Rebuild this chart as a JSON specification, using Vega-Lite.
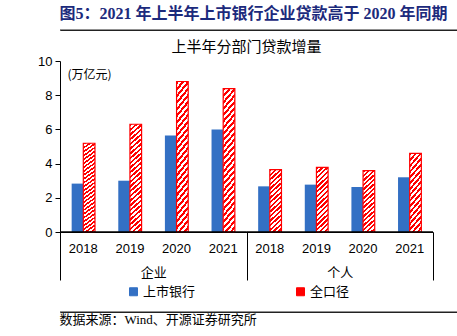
{
  "$schema": "https://vega.github.io/schema/vega-lite/v6.json",
  "padding": {"left": 32, "top": 4, "right": 10, "bottom": 2},
  "config": {"view": {"stroke": null}, "font": "Liberation Sans"},
  "spacing": 9,
  "resolve": {"legend": {"color": "independent"}, "scale": {"y": "independent", "color": "independent", "x": "independent"}},
  "vconcat": [
    {
      "width": 411,
      "height": 26,
      "title": {"text": "图5：2021 年上半年上市银行企业贷款高于 2020 年同期", "font": "'Liberation Serif', 'Noto Sans CJK SC'", "fontSize": 16, "fontWeight": "bold", "color": "#1c2a7c", "anchor": "start", "offset": -18},
      "data": {"values": [{"start": 0, "end": 1}]},
      "mark": {"type": "rule", "stroke": "#222222", "strokeWidth": 1},
      "encoding": {
        "x": {"field": "start", "type": "quantitative", "scale": {"domain": [0, 1]}, "axis": {"orient": "bottom", "title": null, "labels": false, "ticks": false, "grid": false, "domainColor": "#222222", "domainWidth": 1, "minExtent": 0, "maxExtent": 0}},
        "x2": {"field": "end"},
        "y": {"datum": 0, "type": "quantitative", "scale": {"domain": [0, 1]}, "axis": null}
      }
    },
    {
      "width": 373,
      "height": 171,
      "view": {"stroke": null},
      "title": {"text": "上半年分部门贷款增量", "font": "Noto Sans CJK SC", "fontSize": 15, "fontWeight": "normal", "color": "#000000", "frame": "group", "anchor": "middle", "offset": 0},
      "data": {
        "values": [
          {"dept": "企业", "year": "2018", "series": "上市银行", "value": 2.83},
          {"dept": "企业", "year": "2019", "series": "上市银行", "value": 3.0},
          {"dept": "企业", "year": "2020", "series": "上市银行", "value": 5.65},
          {"dept": "企业", "year": "2021", "series": "上市银行", "value": 5.99},
          {"dept": "企业", "year": "2018", "series": "全口径", "value": 5.19},
          {"dept": "企业", "year": "2019", "series": "全口径", "value": 6.3},
          {"dept": "企业", "year": "2020", "series": "全口径", "value": 8.8},
          {"dept": "企业", "year": "2021", "series": "全口径", "value": 8.39},
          {"dept": "个人", "year": "2018", "series": "上市银行", "value": 2.67},
          {"dept": "个人", "year": "2019", "series": "上市银行", "value": 2.77},
          {"dept": "个人", "year": "2020", "series": "上市银行", "value": 2.63},
          {"dept": "个人", "year": "2021", "series": "上市银行", "value": 3.2},
          {"dept": "个人", "year": "2018", "series": "全口径", "value": 3.65},
          {"dept": "个人", "year": "2019", "series": "全口径", "value": 3.78},
          {"dept": "个人", "year": "2020", "series": "全口径", "value": 3.59},
          {"dept": "个人", "year": "2021", "series": "全口径", "value": 4.6}
        ]
      },
      "transform": [{"calculate": "datum.dept + '|' + datum.year", "as": "key"}],
      "layer": [
        {
          "layer": [
            {
              "transform": [{"filter": "datum.series === '上市银行'"}],
              "mark": {"type": "bar"},
              "encoding": {
                "x": {
                  "field": "key", "type": "nominal",
                  "scale": {"domain": ["企业|2018", "企业|2019", "企业|2020", "企业|2021", "个人|2018", "个人|2019", "个人|2020", "个人|2021"], "paddingInner": 0, "paddingOuter": 0},
                  "axis": {"title": null, "orient": "bottom", "labelExpr": "slice(datum.value, -4)", "labelAngle": 0, "ticks": false, "labelPadding": 10, "labelFontSize": 13, "labelColor": "#000000", "domainColor": "#000000", "domainWidth": 1}
                },
                "xOffset": {"field": "series", "scale": {"domain": ["上市银行", "全口径"], "paddingInner": 0, "paddingOuter": 1}},
                "y": {
                  "field": "value", "type": "quantitative",
                  "scale": {"domain": [0, 10]},
                  "axis": {"values": [0, 2, 4, 6, 8, 10], "tickCount": 6, "labelOverlap": false, "title": "(万亿元)", "titleAngle": 0, "titleX": 7, "titleY": 13, "titleAlign": "left", "titleBaseline": "middle", "titleFont": "Noto Sans CJK SC", "titleFontSize": 12, "titleFontWeight": "normal", "titleColor": "#000000", "grid": false, "tickSize": 5, "tickColor": "#000000", "domainColor": "#000000", "labelFontSize": 13, "labelColor": "#000000", "labelPadding": 3, "minExtent": 28, "maxExtent": 28}
                },
                "color": {
                  "field": "series", "type": "nominal",
                  "scale": {"domain": ["上市银行", "全口径"], "range": ["#3370c4", "#ff0000"]},
                  "legend": {
                    "title": null, "orient": "none", "legendX": 64, "legendY": 221, "padding": 3, "direction": "horizontal",
                    "symbolType": "square", "symbolSize": 64, "labelFont": "Noto Sans CJK SC", "labelFontSize": 13, "labelColor": "#000000", "labelOffset": 3, "columnPadding": 98,
                    "encode": {
                      "symbols": {
                        "update": {
                          "fill": [
                            {"test": "datum.value === '全口径'", "value": {"gradient": "linear", "x1": 0, "y1": 0, "x2": 1, "y2": 1, "stops": [
                              {"offset": 0, "color": "#ff0000"}, {"offset": 0.28, "color": "#ff0000"}, {"offset": 0.28, "color": "#ffffff"}, {"offset": 0.42, "color": "#ffffff"},
                              {"offset": 0.42, "color": "#ff0000"}, {"offset": 0.58, "color": "#ff0000"}, {"offset": 0.58, "color": "#ffffff"}, {"offset": 0.72, "color": "#ffffff"},
                              {"offset": 0.72, "color": "#ff0000"}, {"offset": 1, "color": "#ff0000"}]}},
                            {"value": "#3370c4"}
                          ],
                          "stroke": [
                            {"test": "datum.value === '全口径'", "value": "#ff0000"},
                            {"value": "#3370c4"}
                          ],
                          "strokeWidth": {"value": 1}
                        }
                      }
                    }
                  }
                }
              }
            },
            {
              "transform": [{"filter": "datum.series === '全口径' && datum.dept === '企业'"}],
              "mark": {
                "type": "bar", "stroke": "#ff0000", "strokeWidth": 1.2,
                "fill": {"gradient": "linear", "x1": 0, "y1": 0, "x2": 0.1037, "y2": 1.0856, "stops": [
                  {"offset": 0, "color": "#f00"}, {"offset": 0.02, "color": "#f00"}, {"offset": 0.02, "color": "#fff"}, {"offset": 0.04, "color": "#fff"},
                  {"offset": 0.04, "color": "#f00"}, {"offset": 0.06, "color": "#f00"}, {"offset": 0.06, "color": "#fff"}, {"offset": 0.08, "color": "#fff"},
                  {"offset": 0.08, "color": "#f00"}, {"offset": 0.1, "color": "#f00"}, {"offset": 0.1, "color": "#fff"}, {"offset": 0.12, "color": "#fff"},
                  {"offset": 0.12, "color": "#f00"}, {"offset": 0.14, "color": "#f00"}, {"offset": 0.14, "color": "#fff"}, {"offset": 0.16, "color": "#fff"},
                  {"offset": 0.16, "color": "#f00"}, {"offset": 0.18, "color": "#f00"}, {"offset": 0.18, "color": "#fff"}, {"offset": 0.2, "color": "#fff"},
                  {"offset": 0.2, "color": "#f00"}, {"offset": 0.22, "color": "#f00"}, {"offset": 0.22, "color": "#fff"}, {"offset": 0.24, "color": "#fff"},
                  {"offset": 0.24, "color": "#f00"}, {"offset": 0.26, "color": "#f00"}, {"offset": 0.26, "color": "#fff"}, {"offset": 0.28, "color": "#fff"},
                  {"offset": 0.28, "color": "#f00"}, {"offset": 0.3, "color": "#f00"}, {"offset": 0.3, "color": "#fff"}, {"offset": 0.32, "color": "#fff"},
                  {"offset": 0.32, "color": "#f00"}, {"offset": 0.34, "color": "#f00"}, {"offset": 0.34, "color": "#fff"}, {"offset": 0.36, "color": "#fff"},
                  {"offset": 0.36, "color": "#f00"}, {"offset": 0.38, "color": "#f00"}, {"offset": 0.38, "color": "#fff"}, {"offset": 0.4, "color": "#fff"},
                  {"offset": 0.4, "color": "#f00"}, {"offset": 0.42, "color": "#f00"}, {"offset": 0.42, "color": "#fff"}, {"offset": 0.44, "color": "#fff"},
                  {"offset": 0.44, "color": "#f00"}, {"offset": 0.46, "color": "#f00"}, {"offset": 0.46, "color": "#fff"}, {"offset": 0.48, "color": "#fff"},
                  {"offset": 0.48, "color": "#f00"}, {"offset": 0.5, "color": "#f00"}, {"offset": 0.5, "color": "#fff"}, {"offset": 0.52, "color": "#fff"},
                  {"offset": 0.52, "color": "#f00"}, {"offset": 0.54, "color": "#f00"}, {"offset": 0.54, "color": "#fff"}, {"offset": 0.56, "color": "#fff"},
                  {"offset": 0.56, "color": "#f00"}, {"offset": 0.58, "color": "#f00"}, {"offset": 0.58, "color": "#fff"}, {"offset": 0.6, "color": "#fff"},
                  {"offset": 0.6, "color": "#f00"}, {"offset": 0.62, "color": "#f00"}, {"offset": 0.62, "color": "#fff"}, {"offset": 0.64, "color": "#fff"},
                  {"offset": 0.64, "color": "#f00"}, {"offset": 0.66, "color": "#f00"}, {"offset": 0.66, "color": "#fff"}, {"offset": 0.68, "color": "#fff"},
                  {"offset": 0.68, "color": "#f00"}, {"offset": 0.7, "color": "#f00"}, {"offset": 0.7, "color": "#fff"}, {"offset": 0.72, "color": "#fff"},
                  {"offset": 0.72, "color": "#f00"}, {"offset": 0.74, "color": "#f00"}, {"offset": 0.74, "color": "#fff"}, {"offset": 0.76, "color": "#fff"},
                  {"offset": 0.76, "color": "#f00"}, {"offset": 0.78, "color": "#f00"}, {"offset": 0.78, "color": "#fff"}, {"offset": 0.8, "color": "#fff"},
                  {"offset": 0.8, "color": "#f00"}, {"offset": 0.82, "color": "#f00"}, {"offset": 0.82, "color": "#fff"}, {"offset": 0.84, "color": "#fff"},
                  {"offset": 0.84, "color": "#f00"}, {"offset": 0.86, "color": "#f00"}, {"offset": 0.86, "color": "#fff"}, {"offset": 0.88, "color": "#fff"},
                  {"offset": 0.88, "color": "#f00"}, {"offset": 0.9, "color": "#f00"}, {"offset": 0.9, "color": "#fff"}, {"offset": 0.92, "color": "#fff"},
                  {"offset": 0.92, "color": "#f00"}, {"offset": 0.94, "color": "#f00"}, {"offset": 0.94, "color": "#fff"}, {"offset": 0.96, "color": "#fff"},
                  {"offset": 0.96, "color": "#f00"}, {"offset": 0.98, "color": "#f00"}, {"offset": 0.98, "color": "#fff"}, {"offset": 1, "color": "#fff"}
                ]}
              },
              "encoding": {
                "x": {"field": "key", "type": "nominal", "scale": {"domain": ["企业|2018", "企业|2019", "企业|2020", "企业|2021", "个人|2018", "个人|2019", "个人|2020", "个人|2021"], "paddingInner": 0, "paddingOuter": 0}},
                "xOffset": {"field": "series", "scale": {"domain": ["上市银行", "全口径"], "paddingInner": 0, "paddingOuter": 1}},
                "y": {"field": "value", "type": "quantitative", "scale": {"domain": [0, 10]}}
              }
            },
            {
              "transform": [{"filter": "datum.series === '全口径' && datum.dept === '个人'"}],
              "mark": {
                "type": "bar", "stroke": "#ff0000", "strokeWidth": 1.2,
                "fill": {"gradient": "linear", "x1": 0, "y1": 0, "x2": 0.1983, "y2": 1.1395, "stops": [
                  {"offset": 0, "color": "#f00"}, {"offset": 0.03125, "color": "#f00"}, {"offset": 0.03125, "color": "#fff"}, {"offset": 0.0625, "color": "#fff"},
                  {"offset": 0.0625, "color": "#f00"}, {"offset": 0.09375, "color": "#f00"}, {"offset": 0.09375, "color": "#fff"}, {"offset": 0.125, "color": "#fff"},
                  {"offset": 0.125, "color": "#f00"}, {"offset": 0.15625, "color": "#f00"}, {"offset": 0.15625, "color": "#fff"}, {"offset": 0.1875, "color": "#fff"},
                  {"offset": 0.1875, "color": "#f00"}, {"offset": 0.21875, "color": "#f00"}, {"offset": 0.21875, "color": "#fff"}, {"offset": 0.25, "color": "#fff"},
                  {"offset": 0.25, "color": "#f00"}, {"offset": 0.28125, "color": "#f00"}, {"offset": 0.28125, "color": "#fff"}, {"offset": 0.3125, "color": "#fff"},
                  {"offset": 0.3125, "color": "#f00"}, {"offset": 0.34375, "color": "#f00"}, {"offset": 0.34375, "color": "#fff"}, {"offset": 0.375, "color": "#fff"},
                  {"offset": 0.375, "color": "#f00"}, {"offset": 0.40625, "color": "#f00"}, {"offset": 0.40625, "color": "#fff"}, {"offset": 0.4375, "color": "#fff"},
                  {"offset": 0.4375, "color": "#f00"}, {"offset": 0.46875, "color": "#f00"}, {"offset": 0.46875, "color": "#fff"}, {"offset": 0.5, "color": "#fff"},
                  {"offset": 0.5, "color": "#f00"}, {"offset": 0.53125, "color": "#f00"}, {"offset": 0.53125, "color": "#fff"}, {"offset": 0.5625, "color": "#fff"},
                  {"offset": 0.5625, "color": "#f00"}, {"offset": 0.59375, "color": "#f00"}, {"offset": 0.59375, "color": "#fff"}, {"offset": 0.625, "color": "#fff"},
                  {"offset": 0.625, "color": "#f00"}, {"offset": 0.65625, "color": "#f00"}, {"offset": 0.65625, "color": "#fff"}, {"offset": 0.6875, "color": "#fff"},
                  {"offset": 0.6875, "color": "#f00"}, {"offset": 0.71875, "color": "#f00"}, {"offset": 0.71875, "color": "#fff"}, {"offset": 0.75, "color": "#fff"},
                  {"offset": 0.75, "color": "#f00"}, {"offset": 0.78125, "color": "#f00"}, {"offset": 0.78125, "color": "#fff"}, {"offset": 0.8125, "color": "#fff"},
                  {"offset": 0.8125, "color": "#f00"}, {"offset": 0.84375, "color": "#f00"}, {"offset": 0.84375, "color": "#fff"}, {"offset": 0.875, "color": "#fff"},
                  {"offset": 0.875, "color": "#f00"}, {"offset": 0.90625, "color": "#f00"}, {"offset": 0.90625, "color": "#fff"}, {"offset": 0.9375, "color": "#fff"},
                  {"offset": 0.9375, "color": "#f00"}, {"offset": 0.96875, "color": "#f00"}, {"offset": 0.96875, "color": "#fff"}, {"offset": 1, "color": "#fff"}
                ]}
              },
              "encoding": {
                "x": {"field": "key", "type": "nominal", "scale": {"domain": ["企业|2018", "企业|2019", "企业|2020", "企业|2021", "个人|2018", "个人|2019", "个人|2020", "个人|2021"], "paddingInner": 0, "paddingOuter": 0}},
                "xOffset": {"field": "series", "scale": {"domain": ["上市银行", "全口径"], "paddingInner": 0, "paddingOuter": 1}},
                "y": {"field": "value", "type": "quantitative", "scale": {"domain": [0, 10]}}
              }
            }
          ]
        },
        {
          "data": {"values": [{"dept": "企业"}, {"dept": "个人"}]},
          "mark": {"type": "bar", "fill": "transparent", "stroke": "#000000", "strokeWidth": 1},
          "encoding": {
            "x": {
              "field": "dept", "type": "nominal",
              "scale": {"domain": ["企业", "个人"], "paddingInner": 0, "paddingOuter": 0},
              "axis": {"title": null, "orient": "bottom", "labelAngle": 0, "tickBand": "extent", "tickSize": 48, "tickColor": "#000000", "tickWidth": 1, "domain": false, "labelPadding": -14, "labelFont": "Noto Sans CJK SC", "labelFontSize": 13, "labelColor": "#000000"}
            },
            "y": {
              "datum": 0, "type": "quantitative",
              "axis": {"values": [0, 2, 4, 6, 8, 10], "tickCount": 6, "labelOverlap": false, "title": "(万亿元)", "titleAngle": 0, "titleX": 7, "titleY": 13, "titleAlign": "left", "titleBaseline": "middle", "titleFont": "Noto Sans CJK SC", "titleFontSize": 12, "titleFontWeight": "normal", "titleColor": "#000000", "grid": false, "tickSize": 5, "tickColor": "#000000", "domainColor": "#000000", "labelFontSize": 13, "labelColor": "#000000", "labelPadding": 3, "minExtent": 28, "maxExtent": 28}
            },
            "y2": {"datum": 0}
          }
        }
      ],
      "resolve": {"scale": {"x": "independent"}, "axis": {"x": "independent"}}
    },
    {
      "width": 411,
      "height": 12,
      "title": {"text": "数据来源：Wind、开源证券研究所", "orient": "bottom", "anchor": "start", "font": "'Liberation Serif', 'Noto Sans CJK SC'", "fontSize": 13, "fontWeight": "normal", "color": "#000000", "offset": -10},
      "data": {"values": [{"start": 0, "end": 1}]},
      "mark": {"type": "rule", "stroke": "#222222", "strokeWidth": 1},
      "encoding": {
        "x": {"field": "start", "type": "quantitative", "scale": {"domain": [0, 1]}, "axis": {"orient": "top", "title": null, "labels": false, "ticks": false, "grid": false, "domainColor": "#222222", "domainWidth": 1, "minExtent": 0, "maxExtent": 0}},
        "x2": {"field": "end"},
        "y": {"datum": 1, "type": "quantitative", "scale": {"domain": [0, 1]}, "axis": null}
      }
    }
  ]
}
